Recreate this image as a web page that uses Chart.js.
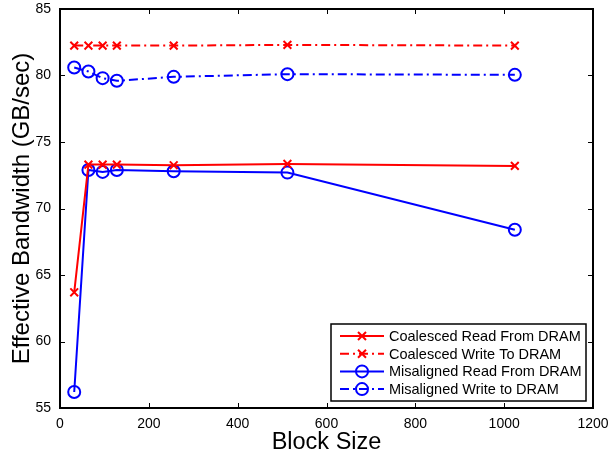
<!DOCTYPE html>
<html>
<head>
<meta charset="utf-8">
<script src="https://cdn.jsdelivr.net/npm/chart.js@4"></script>
<style>
  html, body { margin: 0; padding: 0; background: #fff; }
  #wrap { width: 609px; height: 458px; }
</style>
</head>
<body>
<div id="wrap"><canvas id="chart"></canvas></div>
<script>
  // block sizes on the x axis
  const blockSizes = [32, 64, 96, 128, 256, 512, 1024];

  // effective bandwidth, GB/sec
  const coalescedRead = [63.7, 73.3, 73.3, 73.3, 73.25, 73.35, 73.2];
  const coalescedWrite = [82.25, 82.25, 82.25, 82.25, 82.25, 82.3, 82.25];
  const misalignedRead = [56.2, 72.9, 72.75, 72.9, 72.8, 72.7, 68.4];
  const misalignedWrite = [80.6, 80.3, 79.8, 79.6, 79.9, 80.1, 80.05];

  const xTicks = [0, 200, 400, 600, 800, 1000, 1200];
  const yTicks = [55, 60, 65, 70, 75, 80, 85];

  const red = '#ff0000';
  const blue = '#0000ff';
  const dashDot = [9, 4, 2, 4];
  const fontFamily = "'Liberation Sans', Arial, Helvetica, sans-serif";

  function toPoints(ys) {
    return blockSizes.map((x, i) => ({ x: x, y: ys[i] }));
  }

  const series = [
    { label: 'Coalesced Read From DRAM', data: coalescedRead, color: red, marker: 'crossRot', dash: [] },
    { label: 'Coalesced Write To DRAM', data: coalescedWrite, color: red, marker: 'crossRot', dash: dashDot },
    { label: 'Misaligned Read From DRAM', data: misalignedRead, color: blue, marker: 'circle', dash: [] },
    { label: 'Misaligned Write to DRAM', data: misalignedWrite, color: blue, marker: 'circle', dash: dashDot },
  ];

  // MATLAB-like box with inward ticks, plus the legend box inside the plot
  const matlabFrame = {
    id: 'matlabFrame',
    afterDatasetsDraw(chart) {
      const ctx = chart.ctx;
      const a = chart.chartArea;
      const xs = chart.scales.x;
      const ys = chart.scales.y;
      ctx.save();
      ctx.strokeStyle = '#000';
      ctx.lineWidth = 1;
      const tl = 5;
      xTicks.forEach((v) => {
        const px = Math.round(xs.getPixelForValue(v)) + 0.5;
        ctx.beginPath();
        ctx.moveTo(px, a.bottom); ctx.lineTo(px, a.bottom - tl);
        ctx.moveTo(px, a.top); ctx.lineTo(px, a.top + tl);
        ctx.stroke();
      });
      yTicks.forEach((v) => {
        const py = Math.round(ys.getPixelForValue(v)) + 0.5;
        ctx.beginPath();
        ctx.moveTo(a.left, py); ctx.lineTo(a.left + tl, py);
        ctx.moveTo(a.right, py); ctx.lineTo(a.right - tl, py);
        ctx.stroke();
      });
      ctx.lineWidth = 2;
      ctx.strokeRect(a.left, a.top, a.right - a.left, a.bottom - a.top);

      // legend
      const lx = 331, ly = 324, lw = 255, lh = 77;
      ctx.fillStyle = '#fff';
      ctx.fillRect(lx, ly, lw, lh);
      ctx.lineWidth = 1.5;
      ctx.strokeStyle = '#000';
      ctx.strokeRect(lx, ly, lw, lh);
      ctx.font = '14.5px ' + fontFamily;
      ctx.textBaseline = 'middle';
      series.forEach((s, i) => {
        const cy = ly + 12 + i * 17.7;
        ctx.strokeStyle = s.color;
        ctx.lineWidth = 2;
        ctx.setLineDash(s.dash);
        ctx.beginPath();
        ctx.moveTo(lx + 9, cy); ctx.lineTo(lx + 53, cy);
        ctx.stroke();
        ctx.setLineDash([]);
        const mx = lx + 31;
        ctx.beginPath();
        if (s.marker === 'circle') {
          ctx.arc(mx, cy, 6, 0, Math.PI * 2);
        } else {
          ctx.moveTo(mx - 4, cy - 4); ctx.lineTo(mx + 4, cy + 4);
          ctx.moveTo(mx + 4, cy - 4); ctx.lineTo(mx - 4, cy + 4);
        }
        ctx.stroke();
        ctx.fillStyle = '#000';
        ctx.fillText(s.label, lx + 58, cy + 1);
      });
      ctx.restore();
    },
  };

  new Chart(document.getElementById('chart'), {
    type: 'line',
    data: {
      datasets: series.map((s) => ({
        label: s.label,
        data: toPoints(s.data),
        borderColor: s.color,
        backgroundColor: 'rgba(0,0,0,0)',
        borderWidth: 2,
        borderDash: s.dash,
        pointStyle: s.marker,
        pointRadius: s.marker === 'circle' ? 6 : 5.5,
        pointBorderWidth: 2,
        pointBorderColor: s.color,
        pointBackgroundColor: 'rgba(0,0,0,0)',
        tension: 0,
        fill: false,
      })),
    },
    options: {
      responsive: true,
      maintainAspectRatio: false,
      animation: false,
      events: [],
      layout: { padding: { top: 9, right: 16, left: 0, bottom: 0 } },
      plugins: {
        legend: { display: false },
        tooltip: { enabled: false },
      },
      scales: {
        x: {
          type: 'linear',
          min: 0,
          max: 1200,
          afterBuildTicks: (scale) => { scale.ticks = xTicks.map((v) => ({ value: v })); },
          afterFit: (scale) => {
            scale.height = 50;
            scale.paddingLeft = 0;
            scale.paddingRight = 0;
          },
          grid: { display: false, drawTicks: false },
          border: { display: false },
          ticks: {
            color: '#000',
            padding: 8,
            font: { family: fontFamily, size: 14 },
            maxRotation: 0,
            callback: (v) => String(v),
          },
          title: {
            display: true,
            text: 'Block Size',
            color: '#000',
            font: { family: fontFamily, size: 23.5 },
            padding: { top: 0, bottom: 1 },
          },
        },
        y: {
          type: 'linear',
          min: 55,
          max: 85,
          afterBuildTicks: (scale) => { scale.ticks = yTicks.map((v) => ({ value: v })); },
          afterFit: (scale) => {
            scale.width = 60;
            scale.paddingTop = 0;
            scale.paddingBottom = 0;
          },
          grid: { display: false, drawTicks: false },
          border: { display: false },
          ticks: {
            color: '#000',
            padding: 9,
            font: { family: fontFamily, size: 14 },
            callback: (v) => String(v),
          },
          title: {
            display: true,
            text: 'Effective Bandwidth (GB/sec)',
            color: '#000',
            font: { family: fontFamily, size: 24 },
            padding: { top: 8, bottom: 0 },
          },
        },
      },
    },
    plugins: [matlabFrame],
  });
</script>
</body>
</html>
